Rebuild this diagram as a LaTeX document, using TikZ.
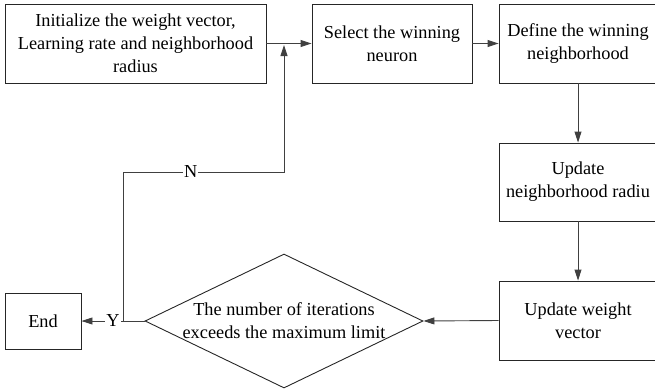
\documentclass[tikz,border=0pt]{standalone}
\usepackage{fontspec}
\setmainfont{Liberation Serif}
\usepackage{tikz}
\usetikzlibrary{positioning}
\usetikzlibrary{arrows.meta,shapes.geometric}

\begin{document}
\begin{tikzpicture}[x=1pt, y=-1pt,
	font=\fontsize{18.3}{23}\selectfont,
	box/.style={draw=black!85, line width=0.9pt, align=center, inner sep=0pt, minimum height=79pt},
	flow/.style={draw=black!75, line width=0.9pt, -{Triangle[length=11pt,width=7pt]}},
	tag/.style={fill=white, inner sep=1pt}]
	
	% ------------------------------------------------
	% Keep the page at the size of the original
	\clip (0,0) rectangle (655,391);
	
	% ------------------------------------------------
	% Top row
	\node[box, minimum width=261pt] (Init)   at (135.5,43.5) {Initialize the weight vector,\\Learning rate and neighborhood\\radius};
	\node[box, minimum width=160pt] (Select) at (392,43.5)   {Select the winning\\neuron};
	\node[box, minimum width=158pt] (Define) at (578,43.5)   {Define the winning\\neighborhood};
	
	% Right column
	\node[box, minimum width=158pt, minimum height=78pt] (Radius) at (578,182) {Update\\neighborhood radiu};
	\node[box, minimum width=158pt] (Weight) at (578,320.5) {Update weight\\vector};
	
	% Decision and end
	\node[diamond, draw=black!85, line width=0.9pt, aspect=2.07, inner sep=0pt,
		minimum width=278pt, minimum height=134pt] (Check) at (284,321) {};
	\node[align=center] (CheckText) at (Check) {The number of iterations\\exceeds the maximum limit};
	\node[box, minimum width=76pt, minimum height=56pt] (End) at (43,321) {End};
	
	% ------------------------------------------------
	% Relevant coordinates for the loop back
	\coordinate (Fork)  at (123,321);
	\coordinate (Merge) at (284,45);
	\path (Merge) +(0,127) coordinate (Bend);
	
	%%%%%%%%%%%%%%%%%%%%%%%%%%%%%%%%%%%%%%%%%
	% Connectors
	\draw[flow] (Init)   -- (Select);
	\draw[flow] (Select) -- (Define);
	\draw[flow] (Define) -- (Radius);
	\draw[flow] (Radius) -- (Weight);
	\draw[flow] (Weight.west) -- (Check.east);
	\draw[flow] (Check.west) -- node[tag] {Y} (End.east);
	
	% Loop back to the start
	\draw[flow] (Fork) |- node[tag, pos=0.71] {N} (Bend) -- (Merge);
	
\end{tikzpicture}
\end{document}
